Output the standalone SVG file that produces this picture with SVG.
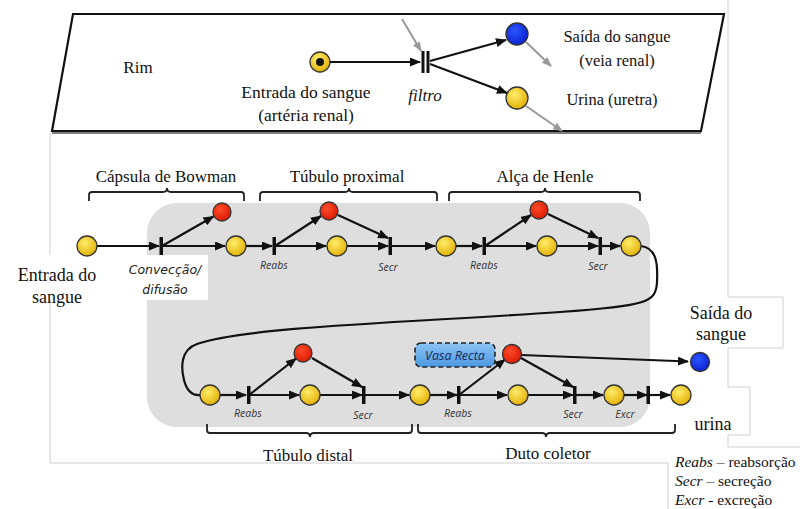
<svg xmlns="http://www.w3.org/2000/svg" width="800" height="509" viewBox="0 0 800 509">
<style>
.ser{font-family:'Liberation Serif','DejaVu Serif',serif;fill:#111}
.lab{font-family:'Open Sans','DejaVu Sans',sans-serif;font-style:italic;font-size:10.5px;fill:#333}
.arc{stroke:#111;stroke-width:2.2;fill:none}
.garc{stroke:#999;stroke-width:2;fill:none}
.yp{fill:url(#gy);stroke:#333;stroke-width:1.3}
.rp{fill:url(#gr);stroke:#333;stroke-width:1.3}
.bp{fill:url(#gb);stroke:#333;stroke-width:1.3}
.tr{fill:#111}
.br{stroke:#222;stroke-width:1.8;fill:none}
.faint{stroke:#d0d0d0;stroke-width:1;fill:none}
</style>
<defs>
<radialGradient id="gy" cx="0.4" cy="0.35" r="0.7"><stop offset="0" stop-color="#ffec6a"/><stop offset="1" stop-color="#e2ae00"/></radialGradient>
<radialGradient id="gr" cx="0.4" cy="0.35" r="0.7"><stop offset="0" stop-color="#ff4a2a"/><stop offset="1" stop-color="#d81800"/></radialGradient>
<radialGradient id="gb" cx="0.4" cy="0.35" r="0.7"><stop offset="0" stop-color="#2a55ff"/><stop offset="1" stop-color="#0a1fd0"/></radialGradient>
<linearGradient id="gvr" x1="0" y1="0" x2="0" y2="1"><stop offset="0" stop-color="#8cc4f4"/><stop offset="1" stop-color="#4b98e0"/></linearGradient>
<marker id="ah" markerUnits="userSpaceOnUse" markerWidth="11" markerHeight="9" refX="10" refY="4.5" orient="auto"><path d="M0,0 L11,4.5 L0,9 z" fill="#111"/></marker>
<marker id="gah" markerUnits="userSpaceOnUse" markerWidth="10" markerHeight="8" refX="9" refY="4" orient="auto"><path d="M0,0 L10,4 L0,8 z" fill="#999"/></marker>
</defs>
<rect width="800" height="509" fill="#fff"/>
<g id="frame-lines">
<path class="faint" d="M728,0 V297 H783 V348 H728 V387 H750 V435 H728 V447 H800"/>
<path class="faint" d="M50,133 V258 H0"/>
<path class="faint" d="M50,300 V463 H668 V509"/>
</g>
<g id="rim-panel">
<path d="M73,14 L724,14 L701,131 L52,131 Z" fill="#fff" stroke="#111" stroke-width="2.2"/>
<path d="M52,133 L701,133" stroke="#555" stroke-width="1.5"/>
<text class="ser" font-family="Liberation Serif, serif" x="138" y="73" font-size="17" text-anchor="middle">Rim</text>
</g>
<g id="top-entrada">
<circle cx="320" cy="62" r="10" class="yp"/>
<circle cx="320" cy="62" r="4" fill="#111"/>
<text class="ser" font-family="Liberation Serif, serif" x="306" y="98" font-size="17.5" text-anchor="middle">Entrada do sangue</text>
<text class="ser" font-family="Liberation Serif, serif" x="306" y="121" font-size="17.5" text-anchor="middle">(artéria renal)</text>
</g>
<g id="top-filtro">
<rect x="421.5" y="51" width="3" height="22" class="tr"/>
<rect x="426.5" y="51" width="3" height="22" class="tr"/>
<text class="ser" font-family="Liberation Serif, serif" x="425" y="101" font-size="17" font-style="italic" text-anchor="middle">filtro</text>
</g>
<g id="top-saida">
<circle cx="517" cy="34" r="11" class="bp"/>
<text class="ser" font-family="Liberation Serif, serif" x="617" y="42" font-size="16.5" text-anchor="middle">Saída do sangue</text>
<text class="ser" font-family="Liberation Serif, serif" x="617" y="66" font-size="16.5" text-anchor="middle">(veia renal)</text>
</g>
<g id="top-urina">
<circle cx="517" cy="98" r="11" class="yp"/>
<text class="ser" font-family="Liberation Serif, serif" x="612" y="105" font-size="16.5" text-anchor="middle">Urina (uretra)</text>
</g>
<g id="top-connectors">
<line class="arc" x1="330" y1="62" x2="420" y2="62" marker-end="url(#ah)"/>
<line class="arc" x1="430" y1="61" x2="506" y2="40" marker-end="url(#ah)"/>
<line class="arc" x1="430" y1="64" x2="507" y2="93" marker-end="url(#ah)"/>
<line class="garc" x1="402" y1="19" x2="421" y2="51" marker-end="url(#gah)"/>
<line class="garc" x1="526" y1="42" x2="551" y2="66" marker-end="url(#gah)"/>
<line class="garc" x1="526" y1="106" x2="562" y2="131" marker-end="url(#gah)"/>
</g>
<g id="nephron-region">
<rect x="147" y="203" width="503" height="224" rx="30" ry="30" fill="#dedede"/>
<rect x="0" y="255" width="208" height="45" fill="#fff"/>
</g>
<g id="brackets">
<path class="br" d="M89,201 V195 Q89,192 92,192 H163 Q167,192 167,188 Q167,192 171,192 H241 Q244,192 244,195 V201"/>
<path class="br" d="M260,201 V195 Q260,192 263,192 H345 Q349,192 349,188 Q349,192 353,192 H434 Q437,192 437,195 V201"/>
<path class="br" d="M449,201 V195 Q449,192 452,192 H541 Q545,192 545,188 Q545,192 549,192 H637 Q640,192 640,195 V201"/>
<path class="br" d="M207,424 V430 Q207,433 210,433 H306 Q310,433 310,437 Q310,433 314,433 H409 Q412,433 412,430 V424"/>
<path class="br" d="M418,424 V430 Q418,433 421,433 H542 Q546,433 546,437 Q546,433 550,433 H672 Q675,433 675,430 V424"/>
<text class="ser" font-family="Liberation Serif, serif" x="166" y="182" font-size="17" text-anchor="middle">Cápsula de Bowman</text>
<text class="ser" font-family="Liberation Serif, serif" x="347" y="182" font-size="17" text-anchor="middle">Túbulo proximal</text>
<text class="ser" font-family="Liberation Serif, serif" x="545" y="182" font-size="17" text-anchor="middle">Alça de Henle</text>
<text class="ser" font-family="Liberation Serif, serif" x="308" y="461" font-size="17" text-anchor="middle">Túbulo distal</text>
<text class="ser" font-family="Liberation Serif, serif" x="548" y="459" font-size="17" text-anchor="middle">Duto coletor</text>
</g>
<g id="connectors">
<line class="arc" x1="97" y1="246" x2="159" y2="246" marker-end="url(#ah)"/>
<line class="arc" x1="162" y1="246" x2="213.5" y2="216.5" marker-end="url(#ah)"/>
<line class="arc" x1="162" y1="246" x2="225" y2="246" marker-end="url(#ah)"/>
<line class="arc" x1="246" y1="246" x2="272" y2="246" marker-end="url(#ah)"/>
<line class="arc" x1="275" y1="246" x2="321" y2="216" marker-end="url(#ah)"/>
<line class="arc" x1="275" y1="246" x2="326" y2="246" marker-end="url(#ah)"/>
<line class="arc" x1="347" y1="246" x2="388" y2="246" marker-end="url(#ah)"/>
<line class="arc" x1="338" y1="215" x2="388" y2="238" marker-end="url(#ah)"/>
<line class="arc" x1="391" y1="246" x2="435" y2="246" marker-end="url(#ah)"/>
<line class="arc" x1="456" y1="246" x2="482" y2="246" marker-end="url(#ah)"/>
<line class="arc" x1="485" y1="246" x2="531" y2="215" marker-end="url(#ah)"/>
<line class="arc" x1="485" y1="246" x2="536" y2="246" marker-end="url(#ah)"/>
<line class="arc" x1="557" y1="246" x2="598" y2="246" marker-end="url(#ah)"/>
<line class="arc" x1="548" y1="214" x2="598" y2="238" marker-end="url(#ah)"/>
<line class="arc" x1="601" y1="246" x2="620" y2="246" marker-end="url(#ah)"/>
<path class="arc" d="M641,246 C656,248 658,262 657,282 C656,302 648,306 560,312 C420,322 250,326 197,344 C180,350 181,368 184,380 C187,392 193,396 201,395"/>
<line class="arc" x1="220" y1="395" x2="246" y2="395" marker-end="url(#ah)"/>
<line class="arc" x1="249" y1="395" x2="296" y2="358.5" marker-end="url(#ah)"/>
<line class="arc" x1="249" y1="395" x2="299" y2="395" marker-end="url(#ah)"/>
<line class="arc" x1="320" y1="395" x2="362" y2="395" marker-end="url(#ah)"/>
<line class="arc" x1="312" y1="358" x2="362" y2="387" marker-end="url(#ah)"/>
<line class="arc" x1="365" y1="395" x2="409" y2="395" marker-end="url(#ah)"/>
<line class="arc" x1="430" y1="395" x2="457" y2="395" marker-end="url(#ah)"/>
<line class="arc" x1="459" y1="395" x2="505" y2="359.5" marker-end="url(#ah)"/>
<line class="arc" x1="459" y1="395" x2="507" y2="395" marker-end="url(#ah)"/>
<line class="arc" x1="528" y1="395" x2="573" y2="395" marker-end="url(#ah)"/>
<line class="arc" x1="521" y1="358" x2="573" y2="387" marker-end="url(#ah)"/>
<line class="arc" x1="576" y1="395" x2="603" y2="395" marker-end="url(#ah)"/>
<line class="arc" x1="624" y1="395" x2="647" y2="395" marker-end="url(#ah)"/>
<line class="arc" x1="650" y1="395" x2="670" y2="395" marker-end="url(#ah)"/>
<line class="arc" x1="521" y1="355" x2="688" y2="361.5" marker-end="url(#ah)"/>
</g>
<g id="entrada"><circle cx="87" cy="246" r="10" class="yp"/>
<text class="ser" font-family="Liberation Serif, serif" x="57" y="281" font-size="18" text-anchor="middle">Entrada do</text>
<text class="ser" font-family="Liberation Serif, serif" x="57" y="303" font-size="18" text-anchor="middle">sangue</text></g>
<g id="t-conveccao"><rect x="159.5" y="237" width="3.5" height="18" class="tr"/>
<text x="165" y="274" font-family="DejaVu Sans, sans-serif" font-style="italic" font-size="12.5" fill="#222" text-anchor="middle">Convecção/</text>
<text x="165" y="294" font-family="DejaVu Sans, sans-serif" font-style="italic" font-size="12.5" fill="#222" text-anchor="middle">difusão</text></g>
<g id="r1"><circle cx="222" cy="212" r="9" class="rp"/></g>
<g id="p1"><circle cx="236" cy="246" r="10" class="yp"/></g>
<g id="t-reabs1"><rect x="272.5" y="237" width="3.5" height="18" class="tr"/><text class="lab" x="274" y="269" text-anchor="middle">Reabs</text></g>
<g id="r2"><circle cx="329" cy="211" r="9" class="rp"/></g>
<g id="p2"><circle cx="337" cy="246" r="10" class="yp"/></g>
<g id="t-secr1"><rect x="388.5" y="237" width="3.5" height="18" class="tr"/><text class="lab" x="388" y="271" text-anchor="middle">Secr</text></g>
<g id="p3"><circle cx="446" cy="246" r="10" class="yp"/></g>
<g id="t-reabs2"><rect x="482.5" y="237" width="3.5" height="18" class="tr"/><text class="lab" x="484" y="269" text-anchor="middle">Reabs</text></g>
<g id="r3"><circle cx="539" cy="210" r="9" class="rp"/></g>
<g id="p4"><circle cx="547" cy="246" r="10" class="yp"/></g>
<g id="t-secr2"><rect x="598.5" y="237" width="3.5" height="18" class="tr"/><text class="lab" x="598" y="270" text-anchor="middle">Secr</text></g>
<g id="p5"><circle cx="631" cy="246" r="10" class="yp"/></g>
<g id="p6"><circle cx="210" cy="395" r="10" class="yp"/></g>
<g id="t-reabs3"><rect x="247" y="386" width="3.5" height="18" class="tr"/><text class="lab" x="248" y="417" text-anchor="middle">Reabs</text></g>
<g id="r4"><circle cx="303" cy="353" r="9" class="rp"/></g>
<g id="p7"><circle cx="310" cy="395" r="10" class="yp"/></g>
<g id="t-secr3"><rect x="362" y="386" width="3.5" height="18" class="tr"/><text class="lab" x="363" y="419" text-anchor="middle">Secr</text></g>
<g id="p8"><circle cx="420" cy="395" r="10" class="yp"/></g>
<g id="t-reabs4"><rect x="457" y="386" width="3.5" height="18" class="tr"/><text class="lab" x="458" y="417" text-anchor="middle">Reabs</text></g>
<g id="vasa-recta"><rect x="415" y="343" width="80" height="24" rx="6" fill="url(#gvr)" stroke="#222" stroke-width="1.6" stroke-dasharray="5,3"/>
<text x="455" y="360" font-family="Open Sans, DejaVu Sans, sans-serif" font-style="italic" font-size="12.5" fill="#1a2a5a" text-anchor="middle">Vasa Recta</text></g>
<g id="r5"><circle cx="512" cy="354" r="9.5" class="rp"/></g>
<g id="p9"><circle cx="518" cy="395" r="10" class="yp"/></g>
<g id="t-secr4"><rect x="573" y="386" width="3.5" height="18" class="tr"/><text class="lab" x="573" y="418" text-anchor="middle">Secr</text></g>
<g id="p10"><circle cx="614" cy="395" r="10" class="yp"/></g>
<g id="t-excr"><rect x="646.5" y="386" width="3.5" height="18" class="tr"/><text class="lab" x="625" y="418" text-anchor="middle">Excr</text></g>
<g id="urina"><circle cx="681" cy="395" r="10" class="yp"/>
<text class="ser" font-family="Liberation Serif, serif" x="713" y="430" font-size="18" text-anchor="middle">urina</text></g>
<g id="saida"><circle cx="700" cy="362" r="9.5" class="bp"/>
<text class="ser" font-family="Liberation Serif, serif" x="721" y="319" font-size="18" text-anchor="middle">Saída do</text>
<text class="ser" font-family="Liberation Serif, serif" x="721" y="340" font-size="18" text-anchor="middle">sangue</text></g>
<g id="legend" class="ser" font-family="Liberation Serif, serif" font-size="15.5">
<text x="675" y="467"><tspan font-style="italic">Reabs</tspan> – reabsorção</text>
<text x="675" y="486"><tspan font-style="italic">Secr</tspan> – secreção</text>
<text x="675" y="505"><tspan font-style="italic">Excr</tspan> - excreção</text>
</g>
</svg>
